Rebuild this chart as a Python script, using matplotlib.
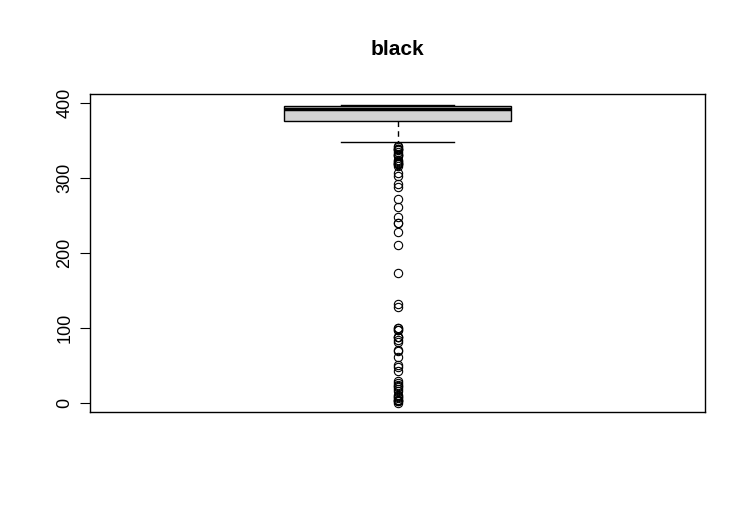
import matplotlib
matplotlib.use("Agg")
import matplotlib.pyplot as plt

plt.rcParams['font.family'] = ['Liberation Sans', 'DejaVu Sans']

# boxplot statistics for "black" (Boston housing)
whislo = 347.5
q1 = 375.38
med = 391.44
q3 = 396.225
whishi = 396.90
outliers = [0.32, 2.52, 2.60, 3.50, 3.65, 6.68, 7.68, 9.32, 10.48, 16.45,
            18.82, 21.57, 22.01, 24.65, 27.25, 28.79, 43.06, 48.45, 50.92,
            60.72, 68.95, 70.80, 81.33, 83.45, 88.01, 88.27, 88.63, 96.73,
            97.95, 100.19, 100.63, 127.36, 131.42, 172.91, 210.97, 227.61,
            240.16, 240.52, 248.31, 261.95, 272.21, 287.68, 291.55, 302.76,
            306.38, 316.03, 318.01, 318.43, 318.75, 320.46, 321.02, 322.25,
            324.26, 329.20, 330.04, 331.29, 332.09, 334.40, 336.92, 338.16,
            338.63, 338.92, 341.60, 343.28]

fig = plt.figure(figsize=(7.45, 5.32), dpi=100)
ax = fig.add_axes([90 / 745, 120 / 532, 615 / 745, 318 / 532])

stats = [dict(med=med, q1=q1, q3=q3, whislo=whislo, whishi=whishi, fliers=outliers)]
ax.bxp(stats, positions=[1], widths=0.4, patch_artist=True,
       boxprops=dict(facecolor="#d3d3d3", edgecolor="black", linewidth=1),
       medianprops=dict(color="black", linewidth=2.5, solid_capstyle="butt"),
       whiskerprops=dict(color="black", linestyle=(0, (4, 3)), linewidth=1),
       capprops=dict(color="black", linewidth=1),
       capwidths=0.2,
       flierprops=dict(marker="o", markerfacecolor="none", markeredgecolor="black",
                       markersize=6, markeredgewidth=0.8))

ax.set_xlim(0.46, 1.54)
ax.set_ylim(-12, 412)
ax.set_xticks([])
ax.set_yticks([0, 100, 200, 300, 400])
ax.set_yticklabels(["0", "100", "200", "300", "400"], rotation=90, va="center", fontsize=13)
ax.tick_params(axis="y", length=7, pad=5)
for s in ax.spines.values():
    s.set_linewidth(1)
ax.set_title("black", fontsize=15, fontweight="bold", pad=28)

fig.savefig("out.png", dpi=100)
